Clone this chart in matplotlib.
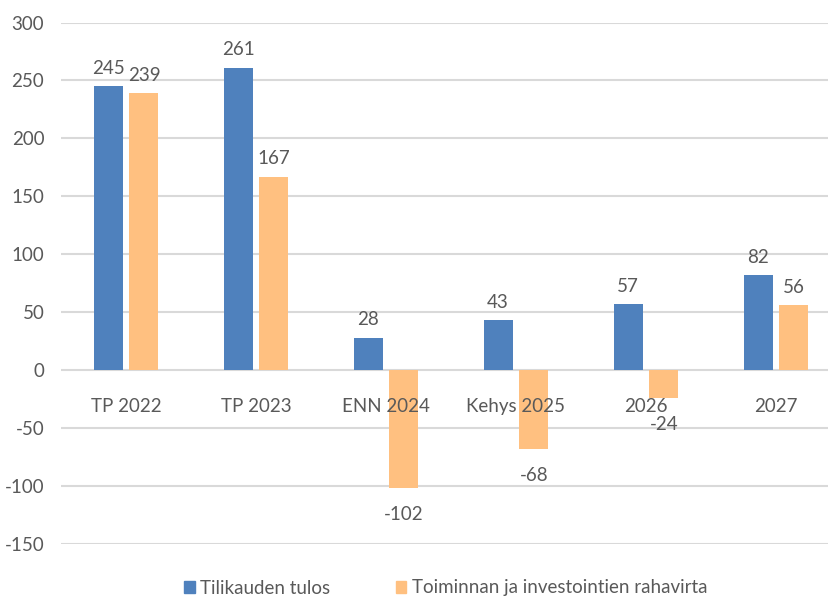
import matplotlib
matplotlib.use("Agg")
import matplotlib.pyplot as plt
import numpy as np
from matplotlib.patches import Patch

categories = ["TP 2022", "TP 2023", "ENN 2024", "Kehys 2025", "2026", "2027"]
tulos = [245, 261, 28, 43, 57, 82]
rahavirta = [239, 167, -102, -68, -24, 56]
series_names = ["Tilikauden tulos", "Toiminnan ja investointien rahavirta"]
yticks = [-150, -100, -50, 0, 50, 100, 150, 200, 250, 300]

blue = "#4F81BD"
orange = "#FFC080"
grey = "#595959"
grid = "#D9D9D9"

plt.rcParams['font.family'] = ['Lato', 'DejaVu Sans']
FS = 13.5

W, H = 829, 599
fig = plt.figure(figsize=(W/100, H/100), dpi=100)
left_px, right_px = 61, 841
top_px, bot_px = 22.5, 544
ax = fig.add_axes([left_px/W, 1 - bot_px/H, (right_px-left_px)/W, (bot_px-top_px)/H])

x = np.arange(len(categories))
bw = 0.223
off = 0.138
b1 = ax.bar(x - off, tulos, bw, color=blue, zorder=3)
b2 = ax.bar(x + off, rahavirta, bw, color=orange, zorder=3)

ax.set_xlim(-0.5, len(categories) - 0.5)
ax.set_ylim(-150, 300)
ax.set_yticks(yticks)
ax.set_yticklabels([str(v) for v in yticks], fontsize=FS, color=grey)
ax.tick_params(axis='y', length=0, pad=12)
ax.set_xticks([])
for s in ax.spines.values():
    s.set_visible(False)
ax.grid(axis='y', color=grid, linewidth=1.5, zorder=0)
ax.set_axisbelow(True)

for xi, c in zip(x, categories):
    ax.annotate(c, (xi, 0), xytext=(0, -26), textcoords='offset points',
                ha='center', va='center', fontsize=FS, color=grey, zorder=5)

for bars, vals in ((b1, tulos), (b2, rahavirta)):
    for r, v in zip(bars, vals):
        cx = r.get_x() + r.get_width()/2
        if v >= 0:
            ax.annotate(str(v), (cx, v), xytext=(0, 13), textcoords='offset points',
                        ha='center', va='center', fontsize=FS, color=grey)
        else:
            ax.annotate(str(v), (cx, v), xytext=(0, -19), textcoords='offset points',
                        ha='center', va='center', fontsize=FS, color=grey)

handles = [Patch(color=blue), Patch(color=orange)]
fig.legend(handles, series_names, loc='center', bbox_to_anchor=(446/W, 1 - 588/H),
           ncol=2, frameon=False, fontsize=FS, labelcolor=grey,
           handlelength=0.55, handleheight=0.55, handletextpad=0.3, columnspacing=3.5)

fig.savefig("out.png", dpi=100)
